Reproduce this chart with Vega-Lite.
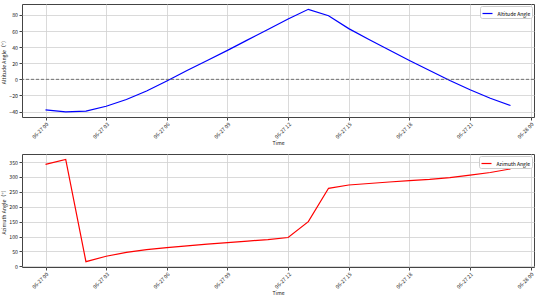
{
  "$schema": "https://vega.github.io/schema/vega-lite/v6.json",
  "padding": {"left": 1, "top": 3, "right": 8, "bottom": 0},
  "spacing": 6,
  "config": {
    "font": "Noto Sans CJK SC",
    "view": {"stroke": "#444", "strokeWidth": 1},
    "axis": {
      "labelFontSize": 5.2, "titleFontSize": 5.2, "titleFontWeight": "normal",
      "labelColor": "#222", "titleColor": "#222",
      "gridColor": "#d0d0d0", "gridWidth": 0.8,
      "domain": false, "tickColor": "#444", "tickSize": 3, "labelPadding": 1.5
    }
  },
  "datasets": {
    "sun": [
      {"t": "2024-06-27T00:00:00", "alt": -38, "az": 342},
      {"t": "2024-06-27T01:00:00", "alt": -40.5, "az": 359},
      {"t": "2024-06-27T02:00:00", "alt": -39.5, "az": 16},
      {"t": "2024-06-27T03:00:00", "alt": -33.5, "az": 34},
      {"t": "2024-06-27T04:00:00", "alt": -25, "az": 47},
      {"t": "2024-06-27T05:00:00", "alt": -14.5, "az": 56},
      {"t": "2024-06-27T06:00:00", "alt": -2, "az": 63},
      {"t": "2024-06-27T07:00:00", "alt": 11, "az": 69},
      {"t": "2024-06-27T08:00:00", "alt": 23.5, "az": 75},
      {"t": "2024-06-27T09:00:00", "alt": 36, "az": 80},
      {"t": "2024-06-27T10:00:00", "alt": 49, "az": 85},
      {"t": "2024-06-27T11:00:00", "alt": 62, "az": 90},
      {"t": "2024-06-27T12:00:00", "alt": 75, "az": 97},
      {"t": "2024-06-27T13:00:00", "alt": 87, "az": 150},
      {"t": "2024-06-27T14:00:00", "alt": 79, "az": 262},
      {"t": "2024-06-27T15:00:00", "alt": 63, "az": 273},
      {"t": "2024-06-27T16:00:00", "alt": 49.5, "az": 278},
      {"t": "2024-06-27T17:00:00", "alt": 36.5, "az": 283},
      {"t": "2024-06-27T18:00:00", "alt": 23.5, "az": 288},
      {"t": "2024-06-27T19:00:00", "alt": 11, "az": 292},
      {"t": "2024-06-27T20:00:00", "alt": -1.5, "az": 298},
      {"t": "2024-06-27T21:00:00", "alt": -13, "az": 306},
      {"t": "2024-06-27T22:00:00", "alt": -23.5, "az": 315},
      {"t": "2024-06-27T23:00:00", "alt": -32.5, "az": 327}
    ],
    "zero": [{"y0": 0}]
  },
  "vconcat": [
    {
      "width": 512, "height": 113,
      "layer": [
        {
          "data": {"name": "sun"},
          "mark": {"type": "line", "strokeWidth": 1.2},
          "encoding": {
            "x": {"field": "t", "type": "temporal", "title": "Time",
              "scale": {"padding": 23.5},
              "axis": {"format": "%m-%d %H", "labelAngle": -45, "labelAlign": "right", "labelBaseline": "top", "tickCount": 9, "titlePadding": 1}},
            "y": {"field": "alt", "type": "quantitative", "title": "Altitude Angle（°）",
              "scale": {"domain": [-46.8, 93.6], "nice": false},
              "axis": {"values": [-40, -20, 0, 20, 40, 60, 80], "titlePadding": 2}},
            "color": {"datum": "Altitude Angle", "type": "nominal", "scale": {"range": ["#0000ff"]},
              "legend": {"orient": "top-right", "title": null, "labelFontSize": 5, "symbolType": "stroke", "symbolSize": 100, "symbolStrokeWidth": 1.2, "fillColor": "white", "strokeColor": "#ccc", "padding": 1.5, "offset": 2, "cornerRadius": 2}}
          }
        },
        {
          "data": {"name": "zero"},
          "mark": {"type": "rule", "stroke": "#555", "strokeDash": [3, 2], "strokeWidth": 0.8},
          "encoding": {"y": {"field": "y0", "type": "quantitative", "title": "Altitude Angle（°）",
            "axis": {"values": [-40, -20, 0, 20, 40, 60, 80], "titlePadding": 2}}}
        }
      ]
    },
    {
      "width": 512, "height": 113,
      "data": {"name": "sun"},
      "mark": {"type": "line", "strokeWidth": 1.2},
      "encoding": {
        "x": {"field": "t", "type": "temporal", "title": "Time",
          "scale": {"padding": 23.5},
          "axis": {"format": "%m-%d %H", "labelAngle": -45, "labelAlign": "right", "labelBaseline": "top", "tickCount": 9, "titlePadding": 1}},
        "y": {"field": "az", "type": "quantitative", "title": "Azimuth Angle（°）",
          "scale": {"domain": [-2, 377], "nice": false},
          "axis": {"values": [0, 50, 100, 150, 200, 250, 300, 350], "titlePadding": 2}},
        "color": {"datum": "Azimuth Angle", "type": "nominal", "scale": {"range": ["#ff0000"]},
          "legend": {"orient": "top-right", "title": null, "labelFontSize": 5, "symbolType": "stroke", "symbolSize": 100, "symbolStrokeWidth": 1.2, "fillColor": "white", "strokeColor": "#ccc", "padding": 1.5, "offset": 2, "cornerRadius": 2}}
      }
    }
  ],
  "resolve": {"scale": {"color": "independent"}}
}
